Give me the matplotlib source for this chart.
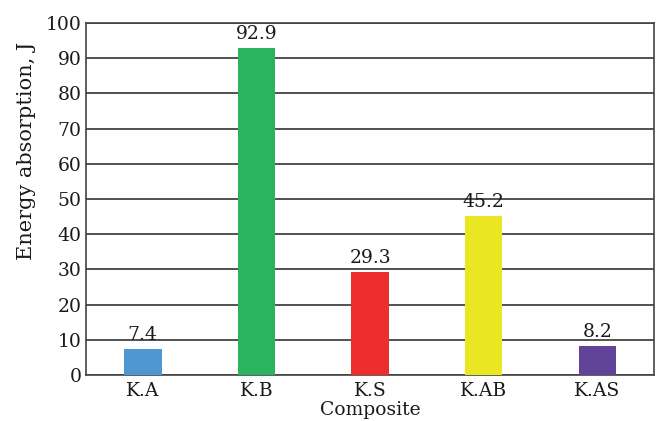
import matplotlib
matplotlib.use('Agg')
import matplotlib.pyplot as plt

# Energy absorbed by each composite
composites = ['K.A', 'K.B', 'K.S', 'K.AB', 'K.AS']
energy = [7.4, 92.9, 29.3, 45.2, 8.2]
bar_colors = ['#4f97d3', '#2bb45e', '#ee2e2e', '#eae622', '#62439a']

plt.rcParams['font.family'] = ['DejaVu Serif']

fig = plt.figure(figsize=(6.6, 4.21), dpi=100)
ax = fig.add_axes([0.1303, 0.1093, 0.8607, 0.8361])

x = range(len(composites))
ax.bar(x, energy, width=0.33, color=bar_colors, zorder=3)

for xi, v in zip(x, energy):
    ax.text(xi, v + 1.5, f'{v:.1f}', ha='center', va='bottom', fontsize=13.5, color='#1a1a1a')

ax.set_xlim(-0.5, 4.5)
ax.set_ylim(0, 100)
ax.set_yticks(range(0, 101, 10))
ax.set_xticks(list(x))
ax.set_xticklabels(composites)
ax.tick_params(axis='both', length=0, labelsize=13.5, colors='#1a1a1a')
ax.tick_params(axis='x', pad=5)
ax.tick_params(axis='y', pad=3)
ax.grid(axis='y', color='#333333', linewidth=1.2, zorder=0)

for sp in ax.spines.values():
    sp.set_color('#444444')
    sp.set_linewidth(1.2)

ax.set_xlabel('Composite', fontsize=13.5, color='#1a1a1a', labelpad=1)
ax.set_ylabel('Energy absorption, J', fontsize=15, color='#1a1a1a', labelpad=7)
# label sits above the axis centre
ax.yaxis.label.set_y(0.636)

fig.savefig('out.png', dpi=100, facecolor='white')
